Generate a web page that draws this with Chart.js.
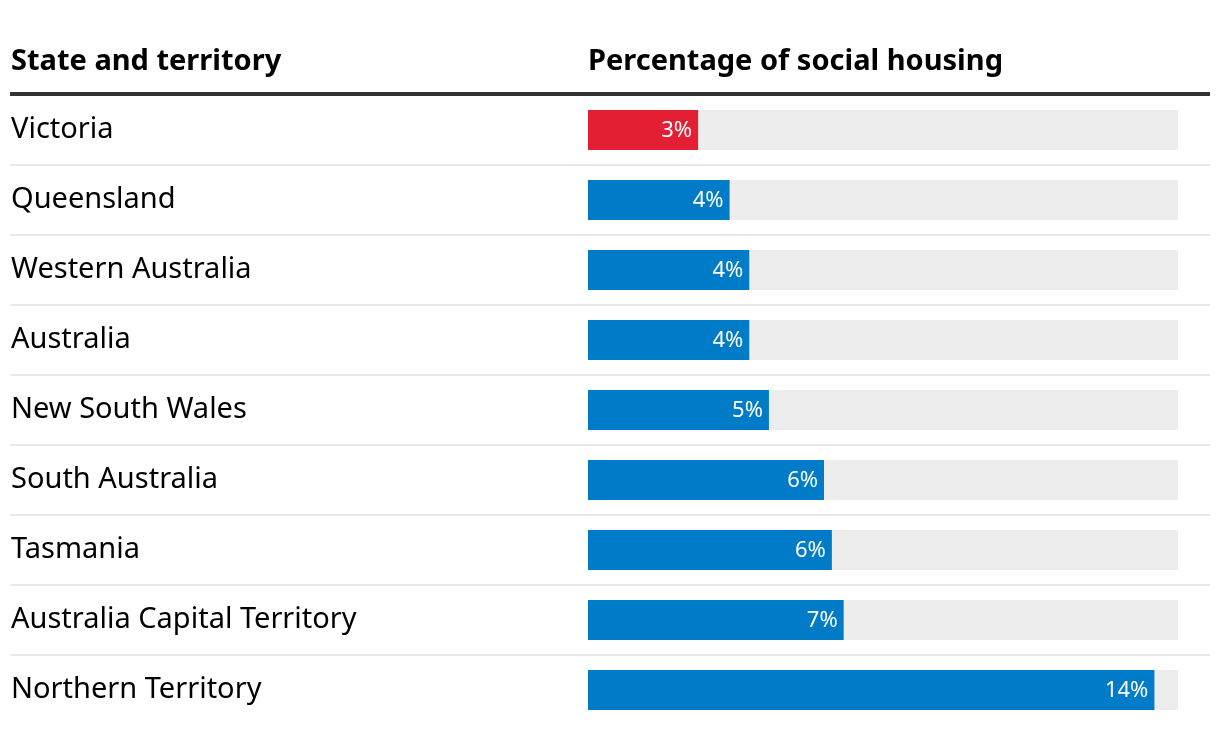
<!DOCTYPE html>
<html>
<head>
<meta charset="utf-8">
<title>Social housing by state</title>
<script src="https://cdn.jsdelivr.net/npm/chart.js@4.4.1/dist/chart.umd.min.js"></script>
<style>
  html, body { margin: 0; padding: 0; background: #fff; }
  #wrap { width: 1220px; height: 734px; position: relative; }
</style>
</head>
<body>
<div id="wrap"><canvas id="chart"></canvas></div>
<script>
// Data
const states = [
  'Victoria',
  'Queensland',
  'Western Australia',
  'Australia',
  'New South Wales',
  'South Australia',
  'Tasmania',
  'Australia Capital Territory',
  'Northern Territory'
];
const shares = [2.8, 3.6, 4.1, 4.1, 4.6, 6.0, 6.2, 6.5, 14.4];
const highlight = 'Victoria';
const scaleMax = 15;
const headers = ['State and territory', 'Percentage of social housing'];

const RED = '#e41f33';
const BLUE = '#007bc7';
const TRACK = '#ededed';
const FONT = '"Noto Sans", sans-serif';

// header, rules and value labels
const decorations = {
  id: 'decorations',
  beforeDatasetsDraw(chart) {
    const ctx = chart.ctx;
    const y = chart.scales.y;
    ctx.save();
    ctx.fillStyle = '#000';
    ctx.font = 'bold 29px ' + FONT;
    ctx.textBaseline = 'middle';
    ctx.textAlign = 'left';
    ctx.fillText(headers[0], 11, 62);
    ctx.fillText(headers[1], chart.chartArea.left, 62);

    ctx.fillStyle = '#333';
    ctx.fillRect(10, 92, 1200, 4);

    ctx.fillStyle = '#e8e8e8';
    for (let i = 0; i < states.length - 1; i++) {
      const mid = (y.getPixelForValue(i) + y.getPixelForValue(i + 1)) / 2;
      ctx.fillRect(10, Math.round(mid) - 1, 1200, 2);
    }
    ctx.restore();
  },
  afterDatasetsDraw(chart) {
    const ctx = chart.ctx;
    const meta = chart.getDatasetMeta(0);
    ctx.save();
    ctx.fillStyle = '#fff';
    ctx.font = '22px ' + FONT;
    ctx.textAlign = 'right';
    ctx.textBaseline = 'middle';
    meta.data.forEach((bar, i) => {
      ctx.fillText(Math.round(shares[i]) + '%', bar.x - 6, bar.y + 1);
    });
    ctx.restore();
  }
};

const chart = new Chart(document.getElementById('chart'), {
  type: 'bar',
  data: {
    labels: states,
    datasets: [
      {
        label: 'Social housing',
        data: shares,
        backgroundColor: states.map(s => s === highlight ? RED : BLUE),
        grouped: false,
        categoryPercentage: 1,
        barPercentage: 40 / 70
      },
      {
        label: 'Track',
        data: states.map(() => scaleMax),
        backgroundColor: TRACK,
        grouped: false,
        categoryPercentage: 1,
        barPercentage: 40 / 70
      }
    ]
  },
  plugins: [decorations],
  options: {
    indexAxis: 'y',
    responsive: true,
    maintainAspectRatio: false,
    animation: false,
    devicePixelRatio: 1,
    layout: { padding: { left: 11, right: 42, top: 95, bottom: 9 } },
    plugins: {
      legend: { display: false },
      tooltip: { enabled: false }
    },
    scales: {
      x: {
        display: false,
        min: 0,
        max: scaleMax
      },
      y: {
        grid: { display: false },
        border: { display: false },
        afterFit(scale) {
          scale.width = 577;
          scale.paddingTop = 0;
          scale.paddingBottom = 0;
        },
        ticks: {
          crossAlign: 'far',
          color: '#000',
          padding: 0,
          font: { family: 'Noto Sans', size: 29 }
        }
      }
    }
  }
});
</script>
</body>
</html>
